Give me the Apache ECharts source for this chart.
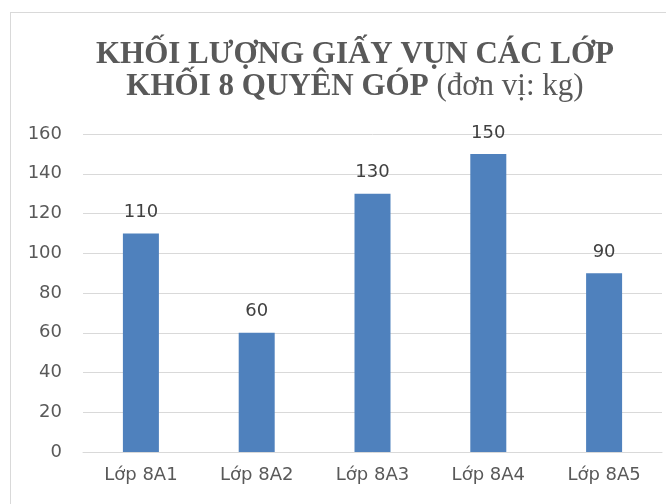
<!DOCTYPE html>
<html><head><meta charset="utf-8">
<script src="https://cdn.jsdelivr.net/npm/echarts@6/dist/echarts.min.js"></script>
<style>html,body{margin:0;padding:0;background:#fff}#c{width:666px;height:504px}
#frame{position:absolute;left:10px;top:12px;width:700px;height:600px;border:1px solid #d9d9d9;box-sizing:border-box;pointer-events:none}</style>
</head><body><div id="c"></div><div id="frame"></div>
<script>
const categories = ['Lớp 8A1','Lớp 8A2','Lớp 8A3','Lớp 8A4','Lớp 8A5'];
const values = [110, 60, 130, 150, 90];
const titleLine1 = 'KHỐI LƯỢNG GIẤY VỤN CÁC LỚP';
const titleLine2a = 'KHỐI 8 QUYÊN GÓP';
const titleLine2b = ' (đơn vị: kg)';
const chart = echarts.init(document.getElementById('c'));
chart.setOption({
  animation:false,
  title:{
    text:'{b|'+titleLine1+'}\n{b|'+titleLine2a+'}{n|'+titleLine2b+'}',
    left:350, textAlign:'center', top:34,
    textStyle:{rich:{
      b:{fontFamily:'Liberation Serif',fontWeight:'bold',fontSize:31,color:'#595959',lineHeight:32},
      n:{fontFamily:'Liberation Serif',fontWeight:'normal',fontSize:31,color:'#595959',lineHeight:32}
    }}
  },
  grid:{left:83,right:4,top:134,bottom:52,containLabel:false},
  xAxis:{type:'category',data:categories,
    axisLine:{lineStyle:{color:'#d9d9d9'}},axisTick:{show:false},
    axisLabel:{color:'#595959',fontSize:18,fontFamily:'DejaVu Sans',margin:14}},
  yAxis:{type:'value',min:0,max:160,interval:20,
    axisLine:{show:false},axisTick:{show:false},
    splitLine:{lineStyle:{color:'#d9d9d9'}},
    axisLabel:{color:'#595959',fontSize:18,fontFamily:'DejaVu Sans',margin:21}},
  series:[{type:'bar',data:values,barWidth:36,
    itemStyle:{color:'#4f81bd'},
    label:{show:true,position:'top',distance:12,color:'#404040',fontSize:18,fontFamily:'DejaVu Sans'}}]
});
</script></body></html>
